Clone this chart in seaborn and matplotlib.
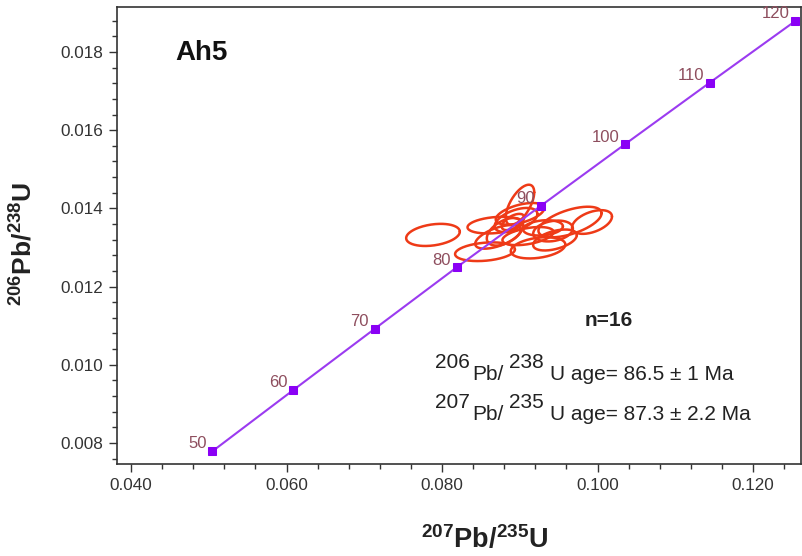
import numpy as np
import pandas as pd
import matplotlib
matplotlib.use("Agg")
import matplotlib.pyplot as plt
import seaborn as sns

# Concordia reference points (age in Ma, 207Pb/235U, 206Pb/238U)
ages = [50, 60, 70, 80, 90, 100, 110, 120]
conc_x = [0.05047, 0.06087, 0.07134, 0.08187, 0.09268, 0.10350, 0.11442, 0.12545]
conc_y = [0.007786, 0.009351, 0.010918, 0.012488, 0.014060, 0.015635, 0.017213, 0.018793]

# Analyses: centre, half-extent in x and y, error correlation
ell_x = [0.07884, 0.08553, 0.08680, 0.09235, 0.09003, 0.08913, 0.09929, 0.09646,
         0.09428, 0.08720, 0.09299, 0.08952, 0.09003, 0.08810, 0.09106, 0.09453]
ell_y = [0.01332, 0.01289, 0.01357, 0.01299, 0.01409, 0.01365, 0.01365, 0.01365,
         0.01342, 0.01327, 0.01350, 0.01370, 0.01386, 0.01340, 0.01329, 0.01319]
ell_sx = [0.00345, 0.00385, 0.00352, 0.00351, 0.00183, 0.00144, 0.00257, 0.00406,
          0.00255, 0.00293, 0.00256, 0.00275, 0.00312, 0.00234, 0.00329, 0.00281]
ell_sy = [0.000283, 0.000239, 0.000213, 0.000272, 0.000514, 0.000208, 0.000303, 0.000391,
          0.000267, 0.000302, 0.000196, 0.000310, 0.000277, 0.000353, 0.000232, 0.000268]
ell_rho = [0.29, 0.25, 0.26, 0.31, 0.62, 0.57, 0.46, 0.57,
           0.25, 0.59, 0.20, 0.50, 0.52, 0.48, 0.45, 0.47]

sample_name = "Ah5"
n_text = "n=16"
age_lines = [
    ["206", "Pb/", "238", "U age= 86.5 ± 1 Ma"],
    ["207", "Pb/", "235", "U age= 87.3 ± 2.2 Ma"],
]

sns.set_theme(style="white")
plt.rcParams["font.family"] = ["Liberation Sans", "DejaVu Sans"]
plt.rcParams["mathtext.fontset"] = "custom"
plt.rcParams["mathtext.rm"] = "Liberation Sans"
plt.rcParams["mathtext.bf"] = "Liberation Sans:bold"
plt.rcParams["mathtext.it"] = "Liberation Sans:italic"

fig = plt.figure(figsize=(8.02, 5.56), dpi=100)
ax = fig.add_axes([117 / 802, (556 - 464) / 556, 684 / 802, 457 / 556])

# ellipses
t = np.linspace(0, 2 * np.pi, 200)
for cx, cy, sx, sy, r in zip(ell_x, ell_y, ell_sx, ell_sy, ell_rho):
    ex = cx + sx * np.cos(t)
    ey = cy + sy * (r * np.cos(t) + np.sqrt(1 - r * r) * np.sin(t))
    sns.lineplot(x=ex, y=ey, sort=False, estimator=None, ax=ax,
                 color="#EE3A17", linewidth=1.8)

# concordia
conc = pd.DataFrame({"age": ages, "x": conc_x, "y": conc_y})
sns.lineplot(data=conc, x="x", y="y", sort=False, estimator=None, ax=ax,
             color="#9B3BF0", linewidth=1.5, marker="s", markersize=6,
             markerfacecolor="#8A00F5", markeredgecolor="#8A00F5", zorder=3)
for a, x, y in zip(ages, conc_x, conc_y):
    ax.annotate(str(a), (x, y), xytext=(-4, 2), textcoords="offset points",
                ha="right", va="baseline", fontsize=12, color="#8E4E5E")

ax.set_xlim(0.0382, 0.12617)
ax.set_ylim(0.00746, 0.01915)
ax.set_xticks([0.040, 0.060, 0.080, 0.100, 0.120])
ax.set_yticks([0.008, 0.010, 0.012, 0.014, 0.016, 0.018])
ax.xaxis.set_minor_locator(matplotlib.ticker.MultipleLocator(0.004))
ax.yaxis.set_minor_locator(matplotlib.ticker.MultipleLocator(0.0004))
ax.xaxis.set_major_formatter(matplotlib.ticker.FormatStrFormatter("%.3f"))
ax.yaxis.set_major_formatter(matplotlib.ticker.FormatStrFormatter("%.3f"))
ax.tick_params(axis="both", which="major", direction="out", length=6, width=1,
               color="#333333", labelsize=12.3, labelcolor="#333333",
               bottom=True, left=True, top=False, right=False, pad=4)
ax.tick_params(axis="both", which="minor", direction="out", length=3.5, width=1,
               color="#333333", bottom=True, left=True, top=False, right=False)
for s in ax.spines.values():
    s.set_color("#333333")
    s.set_linewidth(1.2)
    s.set_visible(True)

ax.set_xlabel(r"$\mathbf{^{207}Pb/^{235}U}$", fontsize=19.5, color="#222222")
ax.set_ylabel(r"$\mathbf{^{206}Pb/^{238}U}$", fontsize=19, color="#222222")
ax.xaxis.set_label_coords(0.537, -0.133)
ax.yaxis.set_label_coords(-0.117, 0.481)

ax.text(0.04566, 0.017795, sample_name, fontsize=20, fontweight="bold", color="#111111",
        ha="left", va="baseline")
ax.text(0.10148, 0.010992, n_text, fontsize=15, fontweight="bold", color="#222222",
        ha="center", va="baseline")

# age lines with full-size raised mass numbers
fs = 15
line_starts = [(0.0791, 0.009918), (0.0791, 0.008895)]
gaps = [2.0, 3.6, 4.3]
shift = 8.4
for (x0, y0), parts in zip(line_starts, age_lines):
    prev = ax.text(x0, y0, parts[0], fontsize=fs, color="#222222",
                   ha="left", va="baseline")
    for i, p in enumerate(parts[1:]):
        dy = -shift if i % 2 == 0 else shift
        prev = ax.annotate(p, xy=(1, 0), xycoords=prev, xytext=(gaps[i], dy),
                           textcoords="offset points", fontsize=fs, color="#222222",
                           ha="left", va="bottom")

fig.savefig("out.png", dpi=100)
